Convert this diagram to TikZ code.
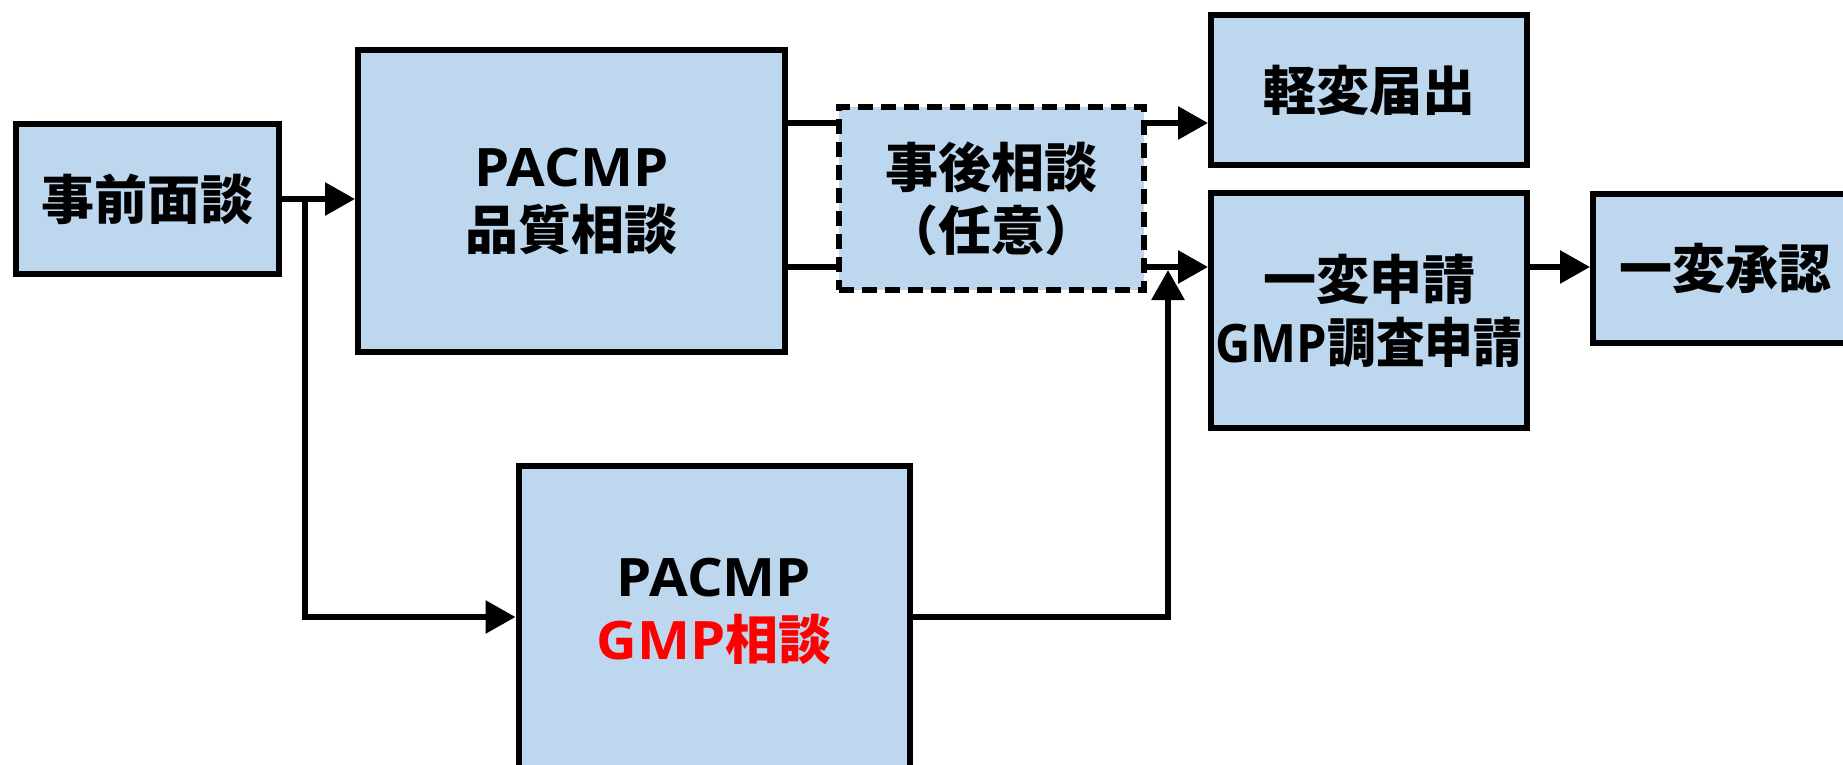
\documentclass[tikz,border=0pt]{standalone}
\usepackage{fontspec}
\usepackage{graphicx}
\setmainfont{Open Sans}
\newfontfamily\jp{Noto Sans CJK JP}
\usetikzlibrary{arrows.meta}
\definecolor{boxblue}{HTML}{BDD7EE}
\definecolor{gmpred}{HTML}{FF0000}
% Latin capitals set a little wider
\newcommand\widelatin[1]{\scalebox{1.06}[1]{#1}}
\tikzset{
  stage/.style={draw=black, fill=boxblue, line width=6pt, inner sep=0pt,
    align=center, font=\bfseries\fontsize{53}{63}\selectfont},
  optional/.style={stage, dash pattern=on 15pt off 8pt},
  stagetext/.style={inner sep=0pt, align=center,
    font=\bfseries\fontsize{53}{63}\selectfont},
  flow/.style={line width=6pt, line join=miter},
  arrowflow/.style={flow, -{Triangle[length=30pt,width=32pt]}},
}
\begin{document}
\begin{tikzpicture}[x=1pt,y=-1pt]
\useasboundingbox (0,0) rectangle (1843,765);
\clip (0,0) rectangle (1843,765);

% stages
\node[stage, minimum width=263pt, minimum height=150pt] (pre) at (147.5,199) {\jp 事前面談};
\node[stage, minimum width=427pt, minimum height=302pt] (pq) at (571.5,201) {\widelatin{PACMP}\\{\jp 品質相談}};
\node[optional, minimum width=305pt, minimum height=183pt] (post) at (991.5,198.5) {{\jp 事後相談}\\{\jp （任意）}};
\node[stage, minimum width=316pt, minimum height=150pt] (kei) at (1369,90) {\jp 軽変届出};
\node[stage, minimum width=316pt, minimum height=235pt] (app) at (1369,310.5) {{\jp 一変申請}\\\scalebox{0.92}[1]{GMP{\jp 調査申請}}};
\node[stage, minimum width=264pt, minimum height=149pt] (appr) at (1725,268.5) {\jp 一変承認};
\node[stage, minimum width=391pt, minimum height=303pt] (gmp) at (714,617) {};
\node[stagetext] (gmptext) at (714,611) {\widelatin{PACMP}\\\textcolor{gmpred}{\widelatin{GMP}{\jp 相談}}};

% rails and turning points
\coordinate (railA) at (0,123);
\coordinate (railB) at (0,267);
\coordinate (split) at (305,0);
\coordinate (risertop) at (1168,270);

% connectors
\draw[arrowflow] (pre.east) -- (pre.east -| pq.west);
\draw[arrowflow] (split |- pre.east) |- (gmp.west);
\draw[flow] (pq.east |- railA) -- (post.west |- railA);
\draw[flow] (pq.east |- railB) -- (post.west |- railB);
\draw[arrowflow] (post.east |- railA) -- (kei.west |- railA);
\draw[arrowflow] (post.east |- railB) -- (app.west |- railB);
\draw[arrowflow] (app.east |- railB) -- (appr.west |- railB);
\draw[arrowflow] (gmp.east) -| (risertop);
\end{tikzpicture}
\end{document}
